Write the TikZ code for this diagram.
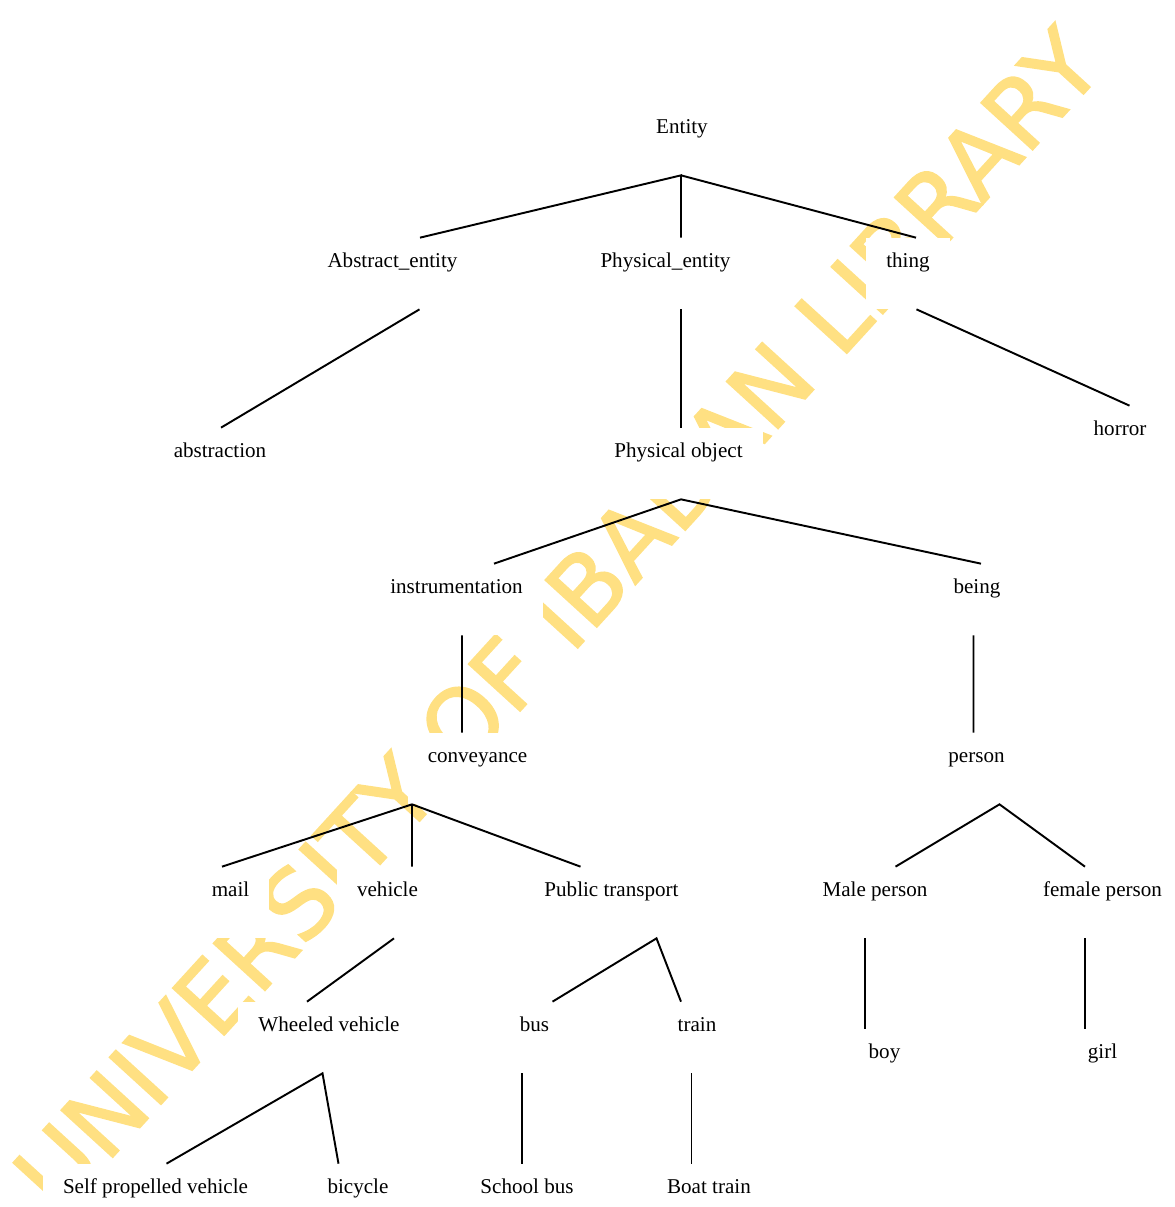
\documentclass[tikz,border=0pt]{standalone}
\usepackage{fontspec}
\setmainfont{Liberation Serif}
\newfontfamily\markfont[FakeBold=1.6]{DejaVu Sans}
\usetikzlibrary{calc}

\definecolor{markyellow}{RGB}{255,224,130}

\tikzset{
  concept/.style={fill=white, anchor=base, inner xsep=0.4cm, inner ysep=0pt,
    text height=0.58cm, text depth=0.84cm, font=\fontsize{12}{14}\selectfont},
  link/.style={line width=1.1pt},
  watermark/.style={text=markyellow, inner sep=0pt,
    font=\markfont\fontsize{54.5}{60}\selectfont}
}

\begin{document}
\begin{tikzpicture}[x=0.02cm,y=-0.02cm]
  \useasboundingbox (0,0) rectangle (1174,1207);

  % watermark behind everything
  \node[watermark, rotate=47.6] (wm) at (557,619) {UNIVERSITY OF IBADAN LIBRARY};

  % level 0 - 2
  \node[concept] (ent) at (682,133) {Entity};
  \node[concept] (abs) at (392.5,267) {Abstract\_entity};
  \node[concept] (phy) at (665.5,267) {Physical\_entity};
  \node[concept] (thg) at (908,267) {thing};
  \node[concept] (abn) at (220,457) {abstraction};
  \node[concept] (pob) at (678.5,457) {Physical object};
  \node[concept] (hor) at (1120,435) {horror};

  % level 3 - 4
  \node[concept] (ins) at (456.5,593) {instrumentation};
  \node[concept] (bei) at (977,593) {being};
  \node[concept] (con) at (477.5,762) {conveyance};
  \node[concept] (per) at (976.5,762) {person};

  % level 5 - 7
  \node[concept] (mai) at (230.5,896) {mail};
  \node[concept] (veh) at (387.5,896) {vehicle};
  \node[concept] (pub) at (611.5,896) {Public transport};
  \node[concept] (mal) at (875,896) {Male person};
  \node[concept] (fem) at (1102.5,896) {female person};
  \node[concept] (whe) at (329,1031) {Wheeled vehicle};
  \node[concept] (bus) at (534.5,1031) {bus};
  \node[concept] (trn) at (697,1031) {train};
  \node[concept] (boy) at (884.5,1058) {boy};
  \node[concept] (grl) at (1102.5,1058) {girl};
  \node[concept] (spv) at (155.5,1193) {Self propelled vehicle};
  \node[concept] (bic) at (358,1193) {bicycle};
  \node[concept] (sbu) at (527,1193) {School bus};
  \node[concept] (btr) at (709,1193) {Boat train};

  % connectors
  \draw[link] ($(abs.north)+(27.5,0)$) -- ($(ent.south)+(-1,0)$) -- ($(phy.north)+(15.5,0)$);
  \draw[link] ($(ent.south)+(-1,0)$) -- ($(thg.north)+(8,0)$);
  \draw[link] ($(abs.south)+(27,0)$) -- ($(abn.north)+(1,0)$);
  \draw[link] ($(phy.south)+(15.5,0)$) -- ($(pob.north)+(2.5,0)$);
  \draw[link] ($(thg.south)+(8.5,0)$) -- ($(hor.north)+(9.5,0)$);
  \draw[link] ($(ins.north)+(37.5,0)$) -- ($(pob.south)+(2.5,0)$) -- ($(bei.north)+(4,0)$);
  \draw[link] ($(ins.south)+(5.5,0)$) -- ($(con.north)+(-15.5,0)$);
  \draw[link] ($(bei.south)+(-3.5,0)$) -- ($(per.north)+(-3,0)$);
  \draw[link] ($(mai.north)+(-8.5,0)$) -- ($(con.south)+(-65.5,0)$) -- ($(pub.north)+(-31,0)$);
  \draw[link] ($(con.south)+(-65.5,0)$) -- ($(veh.north)+(24.5,0)$);
  \draw[link] ($(mal.north)+(20.5,0)$) -- ($(per.south)+(23,0)$) -- ($(fem.north)+(-17.5,0)$);
  \draw[link] ($(veh.south)+(6.5,0)$) -- ($(whe.north)+(-22,0)$);
  \draw[link] ($(bus.north)+(18,0)$) -- ($(pub.south)+(45,0)$) -- ($(trn.north)+(-16,0)$);
  \draw[link] ($(mal.south)+(-10,0)$) -- ($(boy.north)+(-19.5,0)$);
  \draw[link] ($(fem.south)+(-17.5,0)$) -- ($(grl.north)+(-17.5,0)$);
  \draw[link] ($(spv.north)+(11,0)$) -- ($(whe.south)+(-6.5,0)$) -- ($(bic.north)+(-19.5,0)$);
  \draw[link] ($(bus.south)+(-12.5,0)$) -- ($(sbu.north)+(-5,0)$);
  \draw[link] ($(trn.south)+(-5.5,0)$) -- ($(btr.north)+(-17.5,0)$);
\end{tikzpicture}
\end{document}
